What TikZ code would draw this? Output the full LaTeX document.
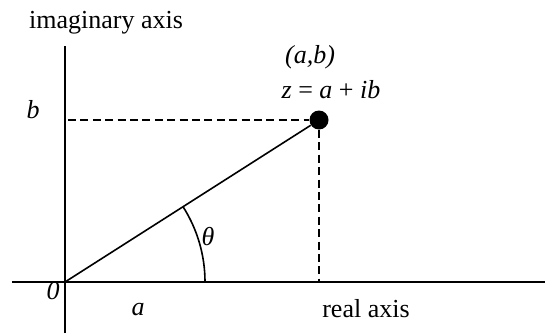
\documentclass[tikz,border=0pt]{standalone}
\usepackage{fontspec}
\setmainfont{Liberation Serif}
\usetikzlibrary{positioning,calc}

\begin{document}
\begin{tikzpicture}[x=0.5pt, y=0.5pt, font=\fontsize{13}{15}\selectfont,
      axis/.style={line width=0.8pt},
      guide/.style={line width=0.8pt, dash pattern=on 4pt off 2.2pt},
      lbl/.style={inner sep=0pt, font=\fontsize{13}{15}\selectfont\itshape},
      dot/.style={circle, fill=black, minimum size=9.5pt, inner sep=0pt}]
    \useasboundingbox (0,0) rectangle (545,333);
    % ---- axes
    \coordinate (O) at (65,51);
    \coordinate (xl) at (12,51);
    \coordinate (xr) at (545,51);
    \coordinate (yt) at (65,287);
    \coordinate (yb) at (65,0);
    \draw[axis] (xl) -- (xr);
    \draw[axis] (yb) -- (yt);
    \node[anchor=center] (imag) at (106,310) {imaginary axis};
    \node[anchor=center] (real) at (366,24) {real axis};
    \node[lbl] (zero) at (53,42) {0};
    % ---- the point z
    \node[dot] (P) at (319,213) {};
    \coordinate (Pb) at (68,213);
    \coordinate (Pa) at (319,51);
    \draw[guide] (Pb) -- (P);
    \draw[guide] (P) -- (Pa);
    \draw[axis] (O) -- (P);
    \node[lbl] (ab) at (310,276) {(a,b)};
    \node[inner sep=0pt] (zeq) at (331,243) {\textit{z} = \textit{a} + \textit{ib}};
    \node[lbl] (bl) at (33,223) {b};
    \node[lbl] (al) at (138,23) {a};
    % ---- angle
    \coordinate (arcA) at (205,51);
    \draw[axis] (arcA) arc[start angle=0, end angle=32.5, radius=140];
    \node[lbl] (th) at (208,96) {θ};
  \end{tikzpicture}
\end{document}
